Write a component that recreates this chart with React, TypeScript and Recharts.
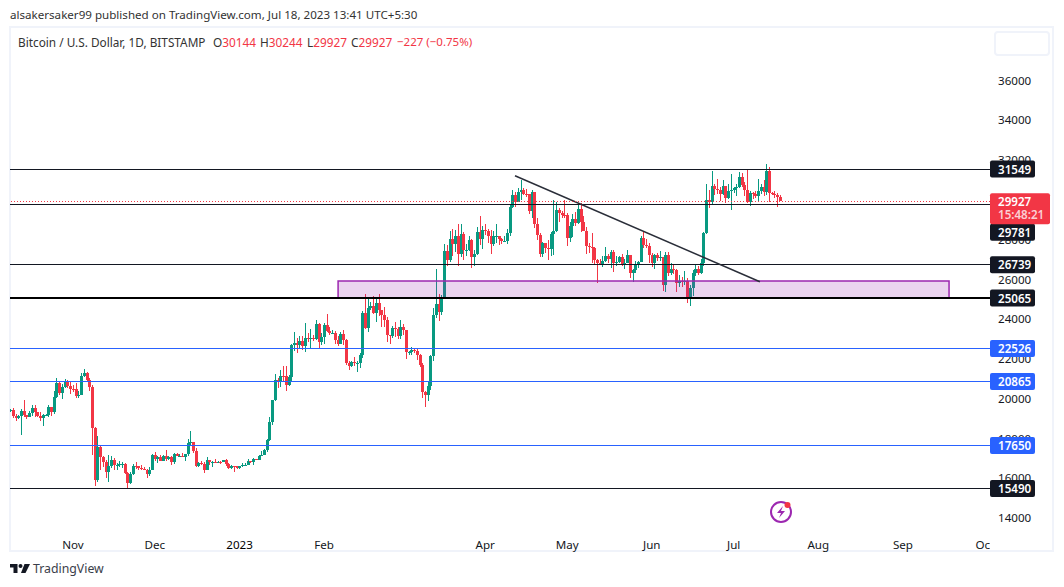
import React from 'react';
import { ComposedChart, Bar, XAxis, YAxis, ReferenceLine, ReferenceArea } from 'recharts';

const FONT = '"Noto Sans", sans-serif';
const UP = '#089981';
const DOWN = '#f23645';
const INK = '#131722';

// daily candles, Oct 9 2022 to Jul 18 2023, one row per month
const opens = [
  19415, 19440, 19130, 19050, 19155, 19380, 19180, 19065, 19265, 19550, 19330, 19125, 19040, 19165, 19205, 19570, 19330, 20090, 20770, 20295, 20590, 20820, 20630,
  20490, 20480, 20150, 20205, 21150, 21300, 20925, 20600, 18540, 15900, 17600, 17070, 16800, 16330, 16610, 16900, 16660, 16690, 16700, 16720, 16290, 15780, 16220, 16610, 16600, 16510, 16460, 16430, 16210, 16440,
  17170, 16970, 17090, 16890, 17110, 16970, 17090, 16840, 17230, 17130, 17130, 17080, 17210, 17780, 17810, 17360, 16630, 16780, 16740, 16440, 16900, 16820, 16830, 16780, 16840, 16830, 16920, 16700, 16540, 16630, 16600,
  16530, 16610, 16670, 16670, 16850, 16830, 16950, 16940, 17120, 17180, 17440, 17940, 18840, 19930, 20960, 20880, 21170, 21130, 20680, 21080, 22680, 22780, 22710, 22920, 22630, 23060, 23010, 23080, 23030, 23740, 22830,
  23130, 23730, 23430, 23330, 23330, 22940, 22760, 23240, 22960, 21800, 21630, 21860, 21780, 21780, 22200, 24330, 23540, 24570, 24640, 24290, 24830, 24450, 24190, 23940, 23190, 23160, 23560, 23490,
  23140, 23630, 23470, 22350, 22350, 22430, 22410, 22200, 21710, 20360, 20190, 20630, 22160, 24200, 24760, 24380, 25050, 27420, 26970, 28040, 27790, 28170, 27300, 28300, 27470, 27490, 28000, 27140, 27270, 28360, 28030,
  28470, 28450, 28200, 27800, 28170, 28170, 28040, 27920, 27950, 28330, 29660, 30230, 29880, 30390, 30480, 30310, 30300, 29430, 30380, 28800, 28240, 27270, 27820, 27590, 27510, 28300, 28420, 29480, 29340, 29240,
  29230, 28070, 28680, 29030, 28850, 29530, 28900, 28450, 27690, 27630, 27600, 26980, 26800, 26780, 26920, 27170, 27030, 27400, 26830, 26890, 27110, 26750, 26850, 27220, 26330, 26480, 26720, 26870, 28080, 27740, 27700,
  27210, 26820, 27250, 27070, 27120, 25730, 27230, 26340, 26500, 26470, 25840, 25910, 25900, 25900, 25120, 25580, 26340, 26520, 26340, 26850, 28310, 29990, 29890, 30690, 30550, 30470, 30270, 30690, 30080, 30440,
  30470, 30590, 30620, 31160, 30770, 30510, 29900, 30340, 30290, 30170, 30420, 30620, 30380, 31450, 30320, 30300, 30250, 30144,
];
const highs = [
  19510, 19520, 19260, 19210, 19510, 19950, 19210, 19410, 19670, 19700, 19350, 19340, 19250, 19250, 19700, 19600, 20400, 21020, 20870, 20750, 20980, 20930, 20840,
  20700, 20800, 20390, 21300, 21480, 21360, 21060, 20700, 18600, 18150, 17650, 17100, 16930, 17170, 17120, 17000, 16750, 16870, 16800, 16750, 16300, 16300, 16700, 16810, 16600, 16680, 16590, 16480, 16550, 17250,
  17320, 17100, 17150, 17200, 17420, 17100, 17130, 17300, 17300, 17220, 17270, 17240, 18000, 18380, 17840, 17530, 16800, 16870, 16820, 17050, 16900, 16860, 16950, 16860, 16860, 16940, 16970, 16780, 16650, 16640, 16630,
  16630, 16760, 16770, 16990, 16880, 17040, 16970, 17170, 17400, 17490, 18000, 19100, 19950, 21260, 21050, 21470, 21640, 21650, 21190, 22750, 23370, 23080, 23160, 23180, 23800, 23300, 23500, 23190, 23950, 23800, 23300,
  23810, 24250, 23590, 23450, 23430, 23160, 23350, 23440, 23010, 21910, 21900, 22080, 21900, 22300, 24400, 25250, 25010, 24860, 25190, 25120, 25260, 24480, 24590, 24130, 23200, 23680, 23880, 23600,
  23940, 23780, 23480, 22420, 22600, 22550, 22530, 22270, 21800, 20370, 20850, 22180, 24550, 26500, 25250, 25200, 27760, 27720, 28450, 28530, 28470, 28800, 28780, 28400, 27800, 28200, 28040, 27500, 28650, 29170, 28660,
  28800, 28530, 28480, 28440, 28770, 28180, 28100, 28170, 28520, 29770, 30480, 30400, 30600, 31000, 30580, 30550, 30300, 30490, 30400, 29090, 28350, 27880, 27820, 28000, 28380, 30000, 29890, 29570, 29460, 29970,
  29340, 28880, 29270, 29370, 29860, 29840, 29180, 28640, 27830, 28330, 27640, 27050, 27040, 27200, 27650, 27280, 27480, 27470, 27190, 27160, 27280, 27050, 27490, 27230, 26540, 26940, 26940, 28190, 28430, 28040, 27830,
  27340, 27300, 27340, 27450, 27130, 27380, 27400, 26800, 26770, 26530, 26200, 26100, 26400, 26060, 25740, 26480, 26780, 26690, 27040, 28400, 30800, 30500, 31430, 30800, 31040, 30650, 31000, 30700, 30820, 31280,
  30660, 30780, 31380, 31330, 30880, 31510, 30450, 30380, 30440, 31040, 30800, 30980, 31820, 31640, 30380, 30450, 30340, 30244,
];
const lows = [
  19320, 19020, 18860, 18970, 18180, 19080, 18980, 19060, 19160, 19100, 19070, 18900, 18650, 19110, 19070, 19160, 19250, 20060, 20200, 20000, 20550, 20530, 20240,
  20350, 20050, 20040, 20180, 21080, 20900, 20400, 17170, 15600, 15800, 16400, 16550, 16000, 15830, 16530, 16400, 16400, 16550, 16540, 16200, 15480, 15700, 16160, 16460, 16400, 16400, 16400, 16000, 16120, 16430,
  16860, 16780, 16860, 16880, 16880, 16910, 16680, 16740, 17100, 17090, 17070, 16870, 17100, 17660, 17280, 16570, 16580, 16660, 16260, 16400, 16680, 16590, 16760, 16760, 16720, 16800, 16600, 16470, 16480, 16330, 16470,
  16490, 16550, 16600, 16650, 16750, 16680, 16900, 16910, 17100, 17150, 17310, 17900, 18700, 19900, 20550, 20600, 20900, 20400, 20660, 20850, 22420, 22300, 22530, 22460, 22340, 22850, 22520, 22880, 22980, 22540, 22720,
  22760, 23380, 23220, 23250, 22760, 22640, 22730, 22680, 21700, 21460, 21600, 21640, 21360, 21530, 22050, 23500, 23340, 24440, 24250, 23860, 24150, 23600, 23620, 22850, 22750, 23060, 23100, 23020,
  23020, 23220, 22000, 22200, 22200, 22300, 21930, 21580, 20050, 19570, 19880, 20440, 21900, 24050, 23900, 24200, 25000, 26650, 26900, 27200, 27400, 26650, 27150, 27000, 27180, 27420, 26550, 26670, 27250, 27720, 27550,
  28250, 27850, 27270, 27680, 27830, 27720, 27770, 27860, 27800, 28170, 29600, 29660, 29880, 30000, 30230, 30120, 29270, 29100, 28600, 28000, 27150, 27130, 27340, 26970, 27200, 27250, 28380, 28900, 29100, 29100,
  27670, 27870, 28130, 28680, 28810, 28400, 28410, 27300, 27340, 26800, 26700, 25800, 26700, 26600, 26870, 26850, 26580, 26390, 26680, 26830, 26650, 26530, 26810, 26080, 25870, 26340, 26560, 26860, 27560, 27560, 26840,
  26610, 26540, 26920, 26950, 25400, 25370, 26150, 26200, 26290, 25350, 25600, 25630, 25740, 24800, 24650, 25180, 26170, 26200, 26250, 26650, 28260, 29600, 29810, 30260, 30300, 29930, 30220, 29850, 30040, 29500,
  30320, 30200, 30580, 30640, 30200, 29850, 29700, 30050, 30070, 29950, 30300, 30200, 30250, 29900, 30250, 30070, 29660, 29927,
];
const closes = [
  19440, 19130, 19050, 19155, 19380, 19180, 19065, 19265, 19550, 19330, 19125, 19040, 19165, 19205, 19570, 19330, 20090, 20770, 20295, 20590, 20820, 20630, 20490,
  20480, 20150, 20205, 21150, 21300, 20925, 20600, 18540, 15900, 17600, 17070, 16800, 16330, 16610, 16900, 16660, 16690, 16700, 16720, 16290, 15780, 16220, 16610, 16600, 16510, 16460, 16430, 16210, 16440, 17170,
  16970, 17090, 16890, 17110, 16970, 17090, 16840, 17230, 17130, 17130, 17080, 17210, 17780, 17810, 17360, 16630, 16780, 16740, 16440, 16900, 16820, 16830, 16780, 16840, 16830, 16920, 16700, 16540, 16630, 16600, 16530,
  16610, 16670, 16670, 16850, 16830, 16950, 16940, 17120, 17180, 17440, 17940, 18840, 19930, 20960, 20880, 21170, 21130, 20680, 21080, 22680, 22780, 22710, 22920, 22630, 23060, 23010, 23080, 23030, 23740, 22830, 23130,
  23730, 23430, 23330, 23330, 22940, 22760, 23240, 22960, 21800, 21630, 21860, 21780, 21780, 22200, 24330, 23540, 24570, 24640, 24290, 24830, 24450, 24190, 23940, 23190, 23160, 23560, 23490, 23140,
  23630, 23470, 22350, 22350, 22430, 22410, 22200, 21710, 20360, 20190, 20630, 22160, 24200, 24760, 24380, 25050, 27420, 26970, 28040, 27790, 28170, 27300, 28300, 27470, 27490, 28000, 27140, 27270, 28360, 28030, 28470,
  28450, 28200, 27800, 28170, 28170, 28040, 27920, 27950, 28330, 29660, 30230, 29880, 30390, 30480, 30310, 30300, 29430, 30380, 28800, 28240, 27270, 27820, 27590, 27510, 28300, 28420, 29480, 29340, 29240, 29230,
  28070, 28680, 29030, 28850, 29530, 28900, 28450, 27690, 27630, 27600, 26980, 26800, 26780, 26920, 27170, 27030, 27400, 26830, 26890, 27110, 26750, 26850, 27220, 26330, 26480, 26720, 26870, 28080, 27740, 27700, 27210,
  26820, 27250, 27070, 27120, 25730, 27230, 26340, 26500, 26470, 25840, 25910, 25900, 25900, 25120, 25580, 26340, 26520, 26340, 26850, 28310, 29990, 29890, 30690, 30550, 30470, 30270, 30690, 30080, 30440, 30470,
  30590, 30620, 31160, 30770, 30510, 29900, 30340, 30290, 30170, 30420, 30620, 30380, 31450, 30320, 30300, 30250, 30144, 29927,
];

// days are counted from Nov 1 2022
const firstDay = -23;
const candles = closes.map((close, i) => ({
  day: firstDay + i,
  open: opens[i],
  high: highs[i],
  low: lows[i],
  close,
}));

const priceTicks = [14000, 16000, 18000, 20000, 22000, 24000, 26000, 28000, 30000, 32000, 34000, 36000];
const monthTicks = [0, 30, 61, 92, 151, 181, 212, 242, 273, 304, 334];
const monthLabels = ['Nov', 'Dec', '2023', 'Feb', 'Apr', 'May', 'Jun', 'Jul', 'Aug', 'Sep', 'Oct'];

const blackLevels = [31549, 29781, 26739, 15490];
const blueLevels = [22526, 20865, 17650];
const heavyLevel = 25065;
const lastPrice = 29927;
const countdown = '15:48:21';
const zone = { x1: 97.1, x2: 320.9, y1: 25050, y2: 25920 };
const trend = [{ x: 161.9, y: 31212 }, { x: 251.6, y: 25885 }];

const ohlc = [['O', '30144'], ['H', '30244'], ['L', '29927'], ['C', '29927']];

const PLOT_RIGHT = 990;
const TICK_SIZE = 11.6;

const chartMargin = { top: 28, right: 0, bottom: 35, left: 10 };
const xDomain = [-23.08, 335.9];
const yDomain = [13506, 38636];

const Candle = (props: any) => {
  const { x, y, width, height, payload } = props;
  const h = Math.abs(height);
  const range = payload.high - payload.low;
  const k = range > 0 ? h / range : 0;
  const up = payload.close >= payload.open;
  const color = up ? UP : DOWN;
  const cx = Math.round(x + width / 2);
  const top = y + (payload.high - Math.max(payload.open, payload.close)) * k;
  const bodyH = Math.max(Math.abs(payload.open - payload.close) * k, 1);
  return (
    <g shapeRendering="crispEdges">
      <rect x={cx} y={y} width={1} height={h} fill={color} />
      <rect x={cx - 1} y={top} width={3} height={bodyH} fill={color} />
    </g>
  );
};

const Badge = ({ viewBox, value, color, dy = 0 }: any) => {
  const cy = viewBox.y + dy;
  return (
    <g>
      <rect x={PLOT_RIGHT} y={cy - 8.5} width={45} height={17} rx={2} fill={color} />
      <text x={PLOT_RIGHT + 8} y={cy + 4.5} fill="#fff" fontSize={TICK_SIZE} fontWeight={600} fontFamily={FONT}>{value}</text>
    </g>
  );
};

const LastBadge = ({ viewBox }: any) => {
  const top = viewBox.y - 8;
  return (
    <g>
      <rect x={PLOT_RIGHT} y={top} width={60} height={31} rx={2} fill={DOWN} />
      <text x={PLOT_RIGHT + 8} y={top + 12.5} fill="#fff" fontSize={TICK_SIZE} fontWeight={600} fontFamily={FONT}>{lastPrice}</text>
      <text x={PLOT_RIGHT + 8} y={top + 26} fill="#fbd0d4" fontSize={TICK_SIZE} fontWeight={600} fontFamily={FONT}>{countdown}</text>
    </g>
  );
};

const MonthTick = ({ x, y, payload, index }: any) => {
  const label = monthLabels[monthTicks.indexOf(payload.value)];
  return (
    <g>
      <clipPath id={`month-${index}`}>
        <rect x={0} y={y - 10} width={PLOT_RIGHT} height={40} />
      </clipPath>
      <text
        x={x}
        y={y + 13}
        textAnchor="middle"
        fontSize={TICK_SIZE}
        fontFamily={FONT}
        fill={label === '2023' ? '#000' : INK}
        clipPath={`url(#month-${index})`}
      >
        {label}
      </text>
    </g>
  );
};

const txt = (left: number, top: number, extra?: React.CSSProperties): React.CSSProperties => ({
  position: 'absolute', left, top, fontFamily: FONT, fontSize: 11.8, lineHeight: '16px', whiteSpace: 'nowrap', color: '#333', ...extra,
});

export default function App() {
  return (
    <div style={{ position: 'absolute', left: 0, top: 0, width: 1064, height: 587, background: '#fff', overflow: 'hidden' }}>
      <div style={txt(10, 7, { fontSize: 11.6 })}>alsakersaker99 published on TradingView.com, Jul 18, 2023 13:41 UTC+5:30</div>
      <div style={{ position: 'absolute', left: 9, top: 26, width: 1041, height: 522, border: '2px solid #f0f3fa' }} />

      {/* candles and axes */}
      <div style={{ position: 'absolute', left: 0, top: 0 }}>
        <ComposedChart width={1064} height={587} data={candles} margin={chartMargin}>
          <XAxis
            dataKey="day"
            type="number"
            domain={xDomain}
            allowDataOverflow
            ticks={monthTicks}
            interval={0}
            axisLine={false}
            tickLine={false}
            height={24}
            tick={MonthTick}
          />
          <YAxis
            orientation="right"
            domain={yDomain}
            allowDataOverflow
            ticks={priceTicks}
            interval={0}
            width={74}
            axisLine={false}
            tickLine={false}
            tickMargin={2}
            tick={{ fontSize: TICK_SIZE, fill: INK, fontFamily: FONT }}
          />
          <Bar dataKey={(d: any) => [d.low, d.high]} barSize={3} shape={Candle} isAnimationActive={false} />
        </ComposedChart>
      </div>

      {/* drawings sit in a second chart on the same scales so the price badges cover the axis labels */}
      <div style={{ position: 'absolute', left: 0, top: 0 }}>
        <ComposedChart width={1064} height={587} data={candles} margin={chartMargin}>
          <XAxis dataKey="day" type="number" domain={xDomain} allowDataOverflow axisLine={false} tickLine={false} tick={false} height={24} />
          <YAxis orientation="right" domain={yDomain} allowDataOverflow width={74} axisLine={false} tickLine={false} tick={false} />
          {blueLevels.map((v) => (
            <ReferenceLine key={v} y={v} stroke="#2962ff" strokeWidth={1} shapeRendering="crispEdges" label={<Badge value={v} color="#2962ff" />} />
          ))}
          {blackLevels.map((v) => (
            <ReferenceLine key={v} y={v} stroke={INK} strokeWidth={1} shapeRendering="crispEdges" label={<Badge value={v} color={INK} dy={v === 29781 ? 28 : 0} />} />
          ))}
          <ReferenceLine y={heavyLevel} stroke="#000" strokeWidth={2} shapeRendering="crispEdges" label={<Badge value={heavyLevel} color={INK} />} />
          <ReferenceArea {...zone} fill="#9c27b0" fillOpacity={0.2} stroke="#9c27b0" strokeWidth={1.5} strokeOpacity={1} />
          <ReferenceLine segment={trend} stroke="#2a2e39" strokeWidth={1.5} />
          <ReferenceLine y={lastPrice} stroke={DOWN} strokeDasharray="1 2" shapeRendering="crispEdges" label={<LastBadge />} />
        </ComposedChart>
      </div>

      <div style={txt(18, 34)}>Bitcoin / U.S. Dollar, 1D, BITSTAMP</div>
      {ohlc.map(([k, v], i) => (
        <div key={k} style={txt([213, 260, 307, 351][i], 34)}>
          {k}<span style={{ color: DOWN }}>{v}</span>
        </div>
      ))}
      <div style={txt(397, 34, { color: DOWN, fontSize: 11.5 })}>−227 (−0.75%)</div>

      <div style={{ position: 'absolute', left: 994, top: 31, width: 52, height: 21, border: '2px solid #f0f3fa', borderRadius: 4, background: '#fff' }} />

      <svg style={{ position: 'absolute', left: 768, top: 498 }} width={26} height={26}>
        <circle cx={13} cy={14} r={10} fill="none" stroke="#9c27b0" strokeWidth={2} />
        <path d="M15 8 L9 15 H13 L11 20 L17 13 H13 Z" fill="#9c27b0" />
        <circle cx={19.5} cy={7} r={3} fill={DOWN} />
      </svg>

      <svg style={{ position: 'absolute', left: 10, top: 563 }} width={21} height={11}>
        <path d="M0 1 H7.5 V10 H3.5 V4.5 H0 Z" fill={INK} />
        <circle cx={10.5} cy={3} r={2} fill={INK} />
        <path d="M14.5 1 H20 L15.5 10 H11 Z" fill={INK} />
      </svg>
      <div style={txt(33, 561, { fontSize: 12.3, color: '#3a3e4a' })}>TradingView</div>
    </div>
  );
}
